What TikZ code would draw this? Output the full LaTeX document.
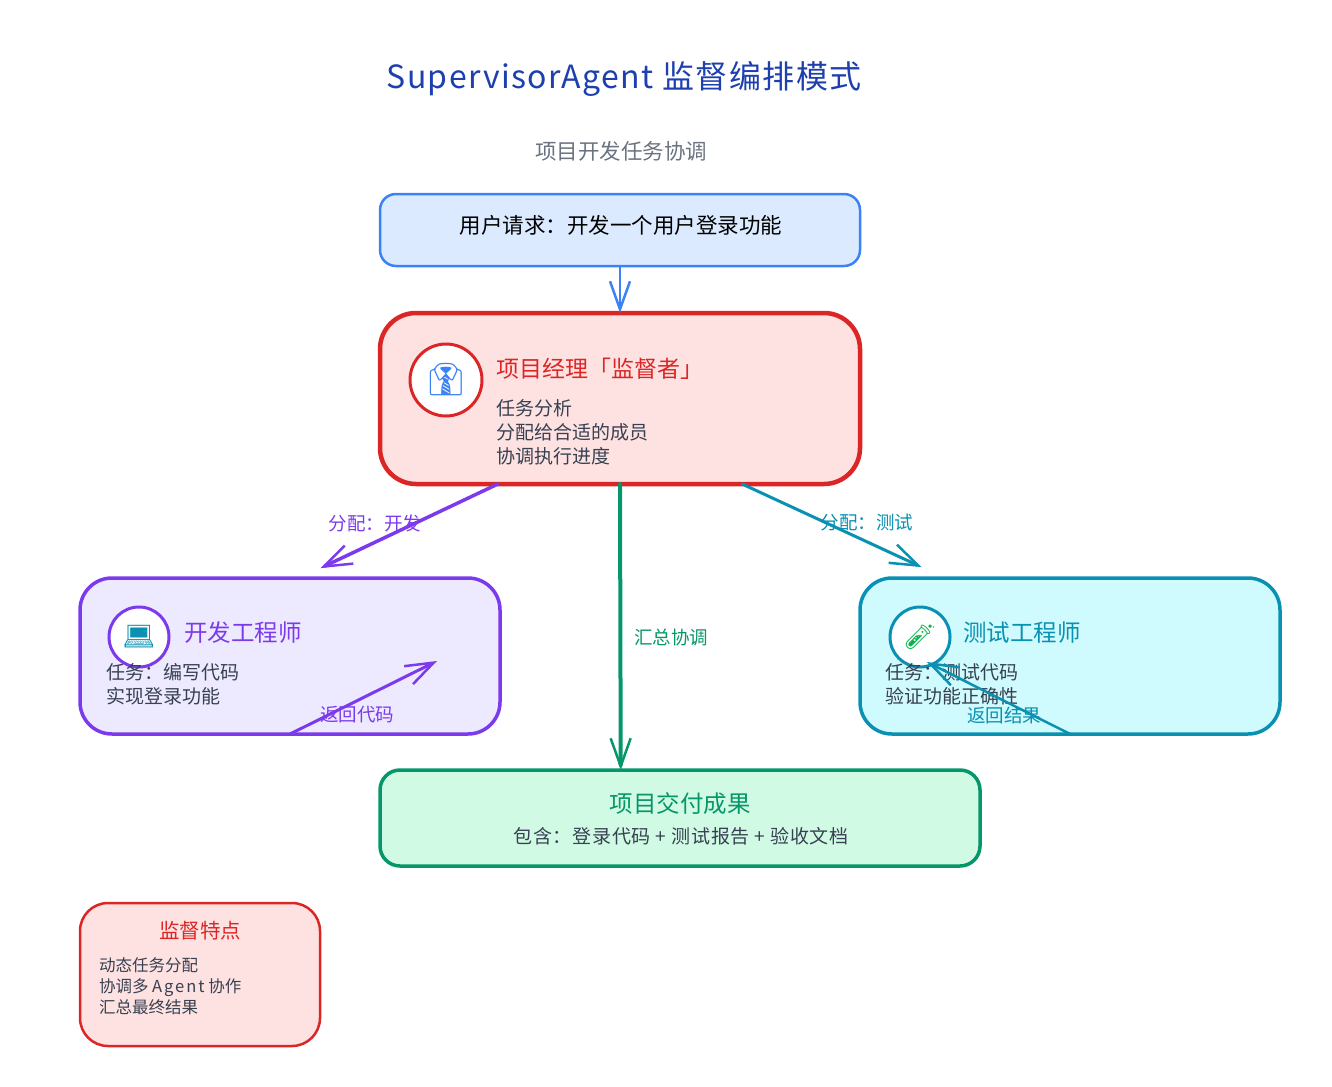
\documentclass[tikz,border=0pt]{standalone}
\usepackage{fontspec}
\setmainfont{Noto Sans CJK SC}
\newfontfamily\emojifont{Noto Emoji}
\usetikzlibrary{positioning, arrows.meta}
\definecolor{bluel}{HTML}{3B82F6}
\definecolor{bluef}{HTML}{DBEAFE}
\definecolor{redl}{HTML}{DC2626}
\definecolor{redf}{HTML}{FEE2E2}
\definecolor{purpl}{HTML}{7C3AED}
\definecolor{purpf}{HTML}{EDE9FE}
\definecolor{cyanl}{HTML}{0891B2}
\definecolor{cyanf}{HTML}{CFFAFE}
\definecolor{greenl}{HTML}{059669}
\definecolor{greenf}{HTML}{D1FAE5}
\definecolor{bodyc}{HTML}{374151}
\definecolor{subc}{HTML}{6B7280}
\definecolor{titlec}{HTML}{1E40AF}
\newcommand{\fs}[2]{\fontsize{#1}{#2}\selectfont}
\newcommand{\spaced}[1]{\addfontfeature{LetterSpace=#1}}
\tikzset{
  card/.style={draw, rounded corners=#1, inner sep=0pt, outer sep=0pt},
  txt/.style={inner sep=0pt, outer sep=0pt, anchor=west, align=left},
  body/.style={txt, text=bodyc},
  icon/.style={circle, draw, fill=white, inner sep=0pt, outer sep=0pt},
  flow/.style={-{Straight Barb[length=28pt, width=20pt, line width=2.5pt]}, line cap=round},
  lbl/.style={inner sep=0pt, outer sep=0pt, font=\fs{18.5}{22}}
}
\begin{document}
\begin{tikzpicture}[x=1pt, y=-1pt]
    \useasboundingbox (0,0) rectangle (1332,1086);
    \node[text=titlec, font=\fs{32}{36}\spaced{4.4}] (title) at (624,79) {SupervisorAgent 监督编排模式};
    \node[text=subc, font=\fs{21.5}{26}] (subtitle) at (621,151) {项目开发任务协调};

    \node[card=16pt, draw=bluel, fill=bluef, line width=2.5pt, minimum width=480pt, minimum height=72pt] (user) at (620,230) {};
    \node[card=36pt, draw=redl, fill=redf, line width=4.5pt, minimum width=480pt, minimum height=171pt] (manager) at (620,398.5) {};
    \node[card=32pt, draw=purpl, fill=purpf, line width=3.5pt, minimum width=420pt, minimum height=156pt] (dev) at (290,656) {};
    \node[card=32pt, draw=cyanl, fill=cyanf, line width=3.5pt, minimum width=420pt, minimum height=156pt] (test) at (1070,656) {};
    \node[card=20pt, draw=greenl, fill=greenf, line width=3.5pt, minimum width=600pt, minimum height=96pt] (result) at (680,818) {};
    \node[card=28pt, draw=redl, fill=redf, line width=2.5pt, minimum width=240pt, minimum height=143pt] (notes) at (200,974.5) {};

    \node[font=\fs{21.5}{26}, text=black] (usertext) at (621,225) {用户请求：开发一个用户登录功能};

    \node[icon, draw=redl, line width=3pt, minimum size=72pt, font=\fs{32}{36}, text=bluel] (managericon) at (446,380) {\emojifont 👔};
    \node[txt, text=redl, font=\fs{23}{28}] (managertitle) at (496,369) {项目经理「监督者」};
    \node[body, font=\fs{19}{24}] (managertext) at (496,432) {任务分析\\分配给合适的成员\\协调执行进度};

    \node[icon, draw=purpl, line width=3pt, minimum size=60pt, font=\fs{26}{30}, text=cyanl] (devicon) at (139,637) {\emojifont 💻};
    \node[txt, text=purpl, font=\fs{23.5}{28}] (devtitle) at (184,633) {开发工程师};
    \node[body, font=\fs{19}{24}] (devtext) at (106,684) {任务：编写代码\\实现登录功能};

    \node[icon, draw=cyanl, line width=3pt, minimum size=60pt, font=\fs{24}{28}, text=greenl!70!green] (testicon) at (920,637) {\emojifont 🧪};
    \node[txt, text=cyanl, font=\fs{23.5}{28}] (testtitle) at (963,633) {测试工程师};
    \node[body, font=\fs{19}{24}] (testtext) at (885,684) {任务：测试代码\\验证功能正确性};

    \node[text=greenl, font=\fs{23.5}{28}] (resulttitle) at (680,804) {项目交付成果};
    \node[text=bodyc, font=\fs{19}{24}\spaced{4}] (resulttext) at (681,836) {包含：登录代码 + 测试报告 + 验收文档};

    \node[text=redl, font=\fs{20.5}{26}] (notestitle) at (200,931) {监督特点};
    \node[body, font=\fs{16.5}{21}] (notestext) at (99,986) {动态任务分配\\协调多 {\spaced{12}Agent} 协作\\汇总最终结果};

    \coordinate (devback) at (437,661);
    \coordinate (testback) at (927,662);
    \draw[flow, draw=bluel, line width=2.5pt] (user.south) -- (manager.north);
    \draw[flow, draw=purpl, line width=3.5pt, shorten >=23pt] (manager.215.7) -- (dev.83.4);
    \draw[flow, draw=cyanl, line width=3pt, shorten >=26pt] (manager.-35.8) -- (test.148.2);
    \draw[flow, draw=greenl, line width=4pt] (manager.south) -- (result.141.3);
    \draw[flow, draw=purpl, line width=3pt] (dev.south) -- (devback);
    \draw[flow, draw=cyanl, line width=2.5pt] (test.south) -- (testback);

    \node[lbl, text=purpl] (devlabel) at (375,523) {分配：开发};
    \node[lbl, text=cyanl] (testlabel) at (867,523) {分配：测试};
    \node[lbl, text=greenl] (sumlabel) at (671,637) {汇总协调};
    \node[lbl, text=purpl] (devbacklabel) at (357,715) {返回代码};
    \node[lbl, text=cyanl] (testbacklabel) at (1004,715) {返回结果};
  \end{tikzpicture}
\end{document}
